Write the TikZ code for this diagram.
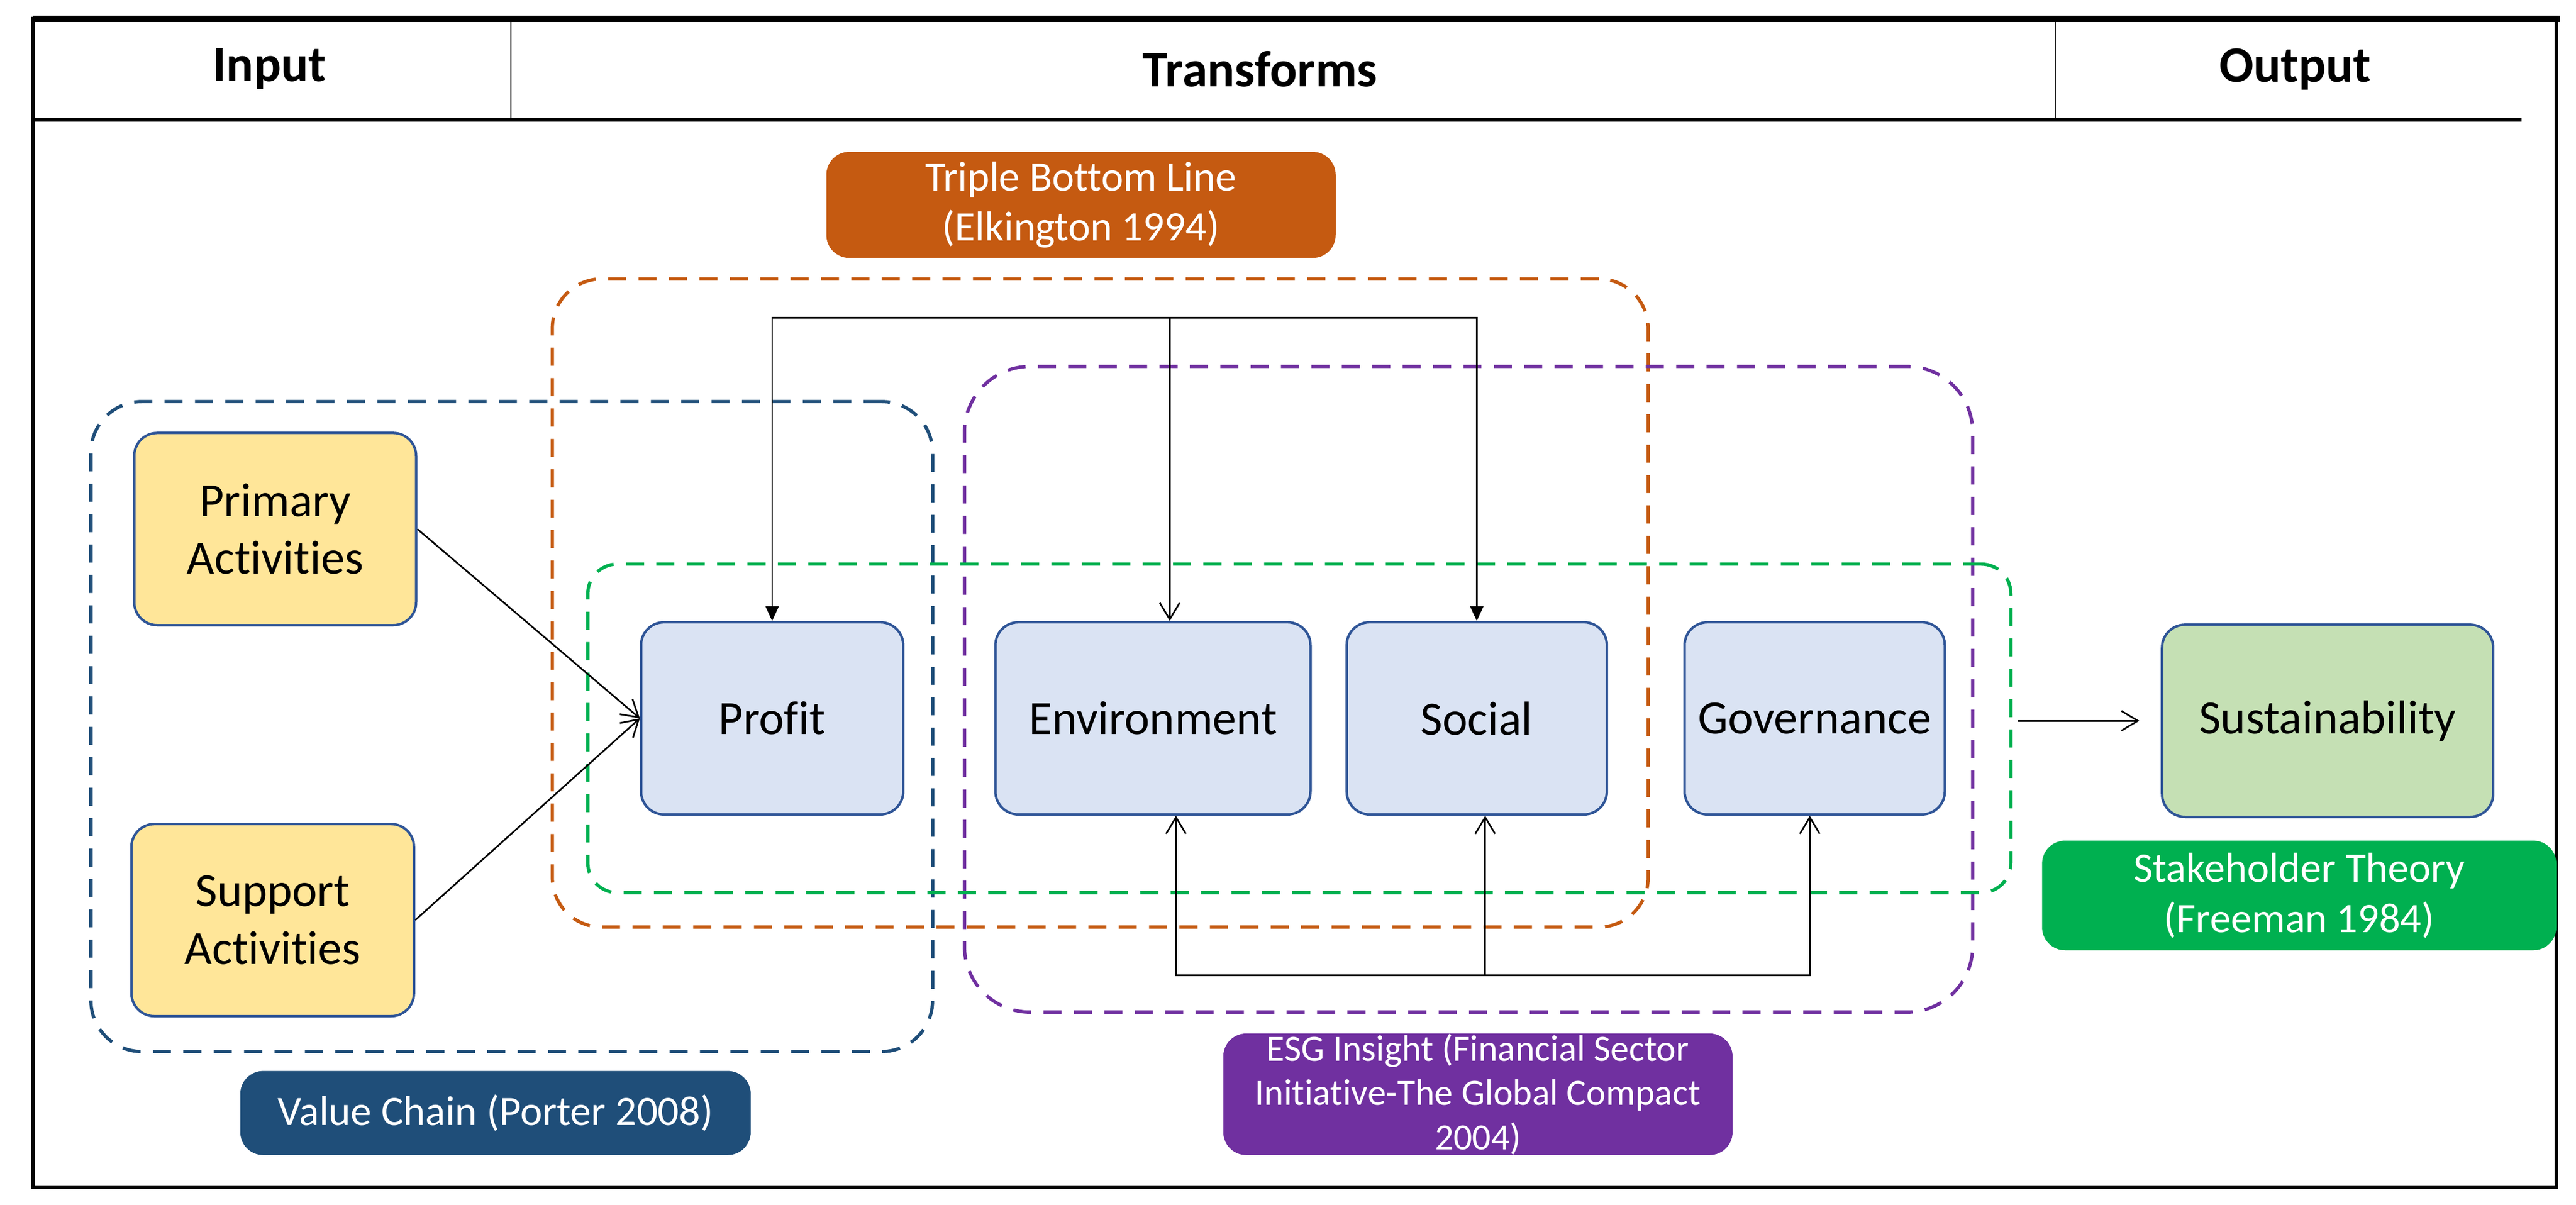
\documentclass[tikz,border=0pt]{standalone}
\usepackage{fontspec}
\setmainfont{Carlito}[Ligatures=NoCommon]
\usetikzlibrary{arrows.meta}

\definecolor{boxline}{HTML}{2F5597}
\definecolor{boxblue}{HTML}{DAE3F3}
\definecolor{boxyellow}{HTML}{FFE699}
\definecolor{boxgreen}{HTML}{C5E0B4}
\definecolor{tblorange}{HTML}{C55A11}
\definecolor{esgpurple}{HTML}{7030A0}
\definecolor{vcblue}{HTML}{1F4E79}
\definecolor{stgreen}{HTML}{00B050}

\begin{document}
\begin{tikzpicture}[x=1pt, y=-1pt,
  every box/.style={draw=boxline, line width=1.5pt, rounded corners=14pt,
    minimum height=117pt, inner sep=0pt, align=center,
    font=\fontsize{29}{35}\selectfont},
  every tag/.style={rounded corners=14pt, text=white, inner sep=0pt,
    align=center, font=\fontsize{25.5}{30.5}\selectfont},
  every group/.style={dash pattern=on 11pt off 7.5pt, line width=2pt,
    inner sep=0pt},
  open arrow/.style={-{Straight Barb[length=10pt,width=12pt]}, line width=1pt},
  filled arrow/.style={-{Triangle[length=9pt,width=8pt]}, line width=1pt}]
\useasboundingbox (0,0) rectangle (1568,733.4);

% frame and header
\draw [line width=2pt] (20,11.4) rectangle (1556,722.5);
\draw [line width=4pt] (20,11.4) -- (1558,11.4);
\draw [line width=2pt] (20,73) -- (1535,73);
\foreach \x in {311,1251}
  \draw [line width=1pt] (\x,11.4) -- (\x,73);
\foreach \l/\x in {Input/164, Transforms/767, Output/1397}
  \node [font=\bfseries\fontsize{31}{37}\selectfont] (head-\l) at (\x,42) {\l};

% dashed groups
\node [every group/.try, draw=tblorange, rounded corners=30pt,
  minimum width=667pt, minimum height=394.5pt] (tbl-group) at (669.7,367) {};
\node [every group/.try, draw=esgpurple, rounded corners=40pt,
  minimum width=613.7pt, minimum height=393pt] (esg-group) at (893.9,419.5) {};
\node [every group/.try, draw=vcblue, rounded corners=31pt,
  minimum width=512.3pt, minimum height=395.6pt] (vc-group) at (311.5,442.2) {};
\node [every group/.try, draw=stgreen, rounded corners=18pt,
  minimum width=866.2pt, minimum height=200pt] (st-group) at (790.9,443.3) {};

% boxes
\node [every box/.try, fill=boxyellow, minimum width=171.6pt] (primary) at (167.5,322) {Primary\\Activities};
\node [every box/.try, fill=boxyellow, minimum width=172pt] (support) at (166,560) {Support\\Activities};

\foreach \n/\l/\x/\w in {profit/Profit/470/159.6, environment/Environment/701.8/191.8,
    social/Social/898.9/158.4, governance/Governance/1104.6/158.4}
  \node [every box/.try, fill=boxblue, minimum width=\w] (\n) at (\x,437.2) {\l};

\node [every box/.try, fill=boxgreen, minimum width=201.6pt] (sustainability) at (1416.8,438.7) {Sustainability};

% labels
\node [every tag/.try, fill=tblorange, minimum width=310pt, minimum height=64.6pt]
  (tbl) at (658,124.7) {Triple Bottom Line\\(Elkington 1994)};
\node [every tag/.try, fill=vcblue, minimum width=310.7pt, minimum height=51.2pt]
  (vc) at (301.6,677.4) {Value Chain (Porter 2008)};
\node [every tag/.try, fill=esgpurple, minimum width=310pt, minimum height=74pt,
  inner ysep=-3.5pt, font=\fontsize{22.5}{27}\selectfont]
  (esg) at (899.6,666) {ESG Insight (Financial Sector\\Initiative-The Global Compact\\2004)};
\node [every tag/.try, fill=stgreen, minimum width=313pt, minimum height=66.7pt]
  (stake) at (1399.5,545) {Stakeholder Theory\\(Freeman 1984)};

% connectors
\draw [open arrow] (primary.east) -- (profit.west);
\draw [open arrow] (support.east) -- (profit.west);

\coordinate (top-bar) at (712,193.5);
\draw [filled arrow] (top-bar) -| (profit.north);
\draw [filled arrow] (top-bar) -| (social.north);
\draw [open arrow] (top-bar) -- (top-bar |- environment.north);

\coordinate (bottom-bar) at (904,593.7);
\draw [open arrow] (bottom-bar) -- (bottom-bar |- social.south);
\draw [open arrow] (bottom-bar) -| ([xshift=14pt]environment.south);
\draw [open arrow] (bottom-bar) -| ([xshift=-3pt]governance.south);

\draw [open arrow, shorten <=3pt, shorten >=13pt]
  (st-group.east |- sustainability.west) -- (sustainability.west);
\end{tikzpicture}
\end{document}
